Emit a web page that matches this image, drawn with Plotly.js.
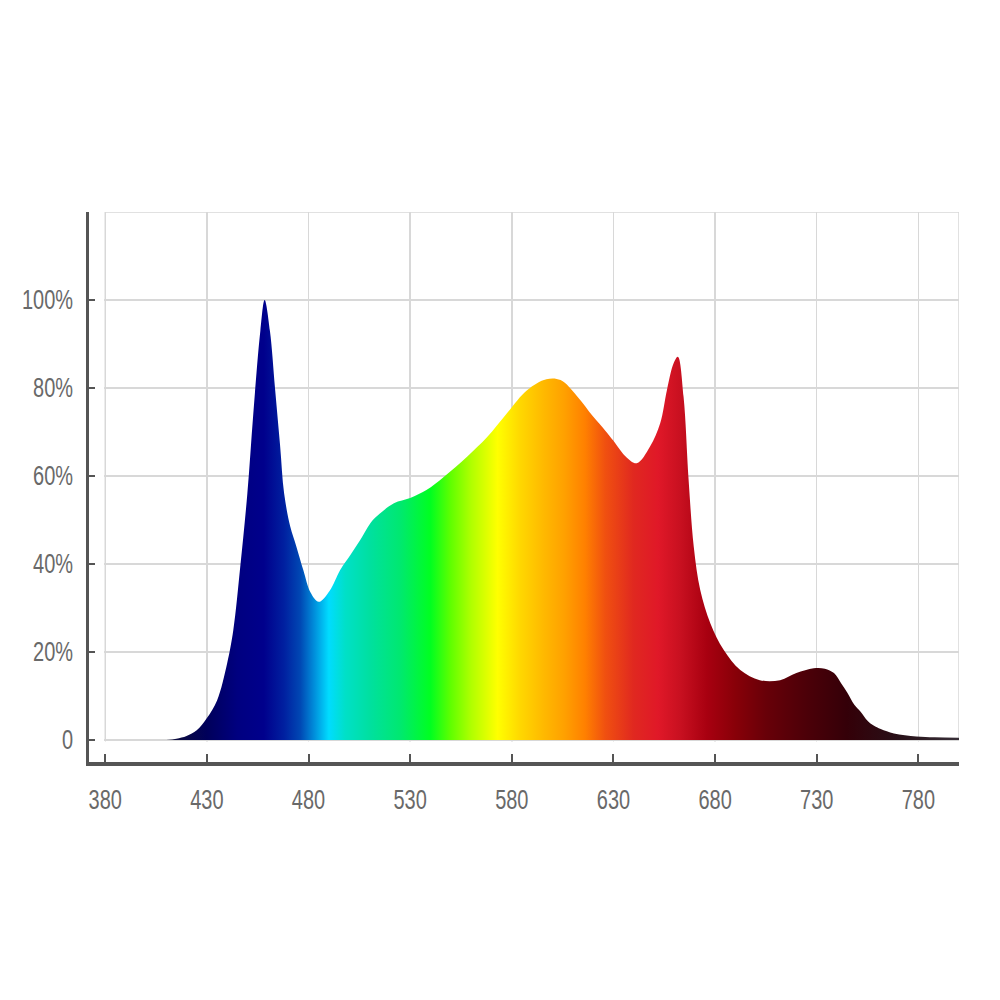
<!DOCTYPE html>
<html>
<head>
<meta charset="utf-8">
<script src="https://cdn.plot.ly/plotly-3.0.1.min.js"></script>
<style>html,body{margin:0;padding:0;background:#fff;}#chart{width:1000px;height:1000px;}</style>
</head>
<body>
<div id="chart"></div>
<script>
// Spectrum: wavelength (nm) and relative intensity (%)
const wavelength = [410,415,420,425,430,435,440,443,446.4,449.9,452.8,456.3,458.4,461,463.5,466,468,471,474,477.5,481,485,490.5,495.5,500.5,505.5,510.5,514,522,530,538,546.5,558,568,577.5,587.5,597,604,612,620,626,630,636.5,641.5,648,653,656.3,659.6,661.7,664.5,667,669.5,672.7,677.7,684.2,692.4,702,712,720,728.5,734,738.5,742,745,748.5,751.5,755,758,761.5,768,779,788,800];
const intensity  = [0,0.3,0.9,2.2,5.0,9.0,17.5,25,39.3,56,74,93,100,93,80,67,56,48.5,44,38.5,33.5,31.4,34,38.6,42,45.5,49.3,51,53.8,55,56.8,59.8,64.4,68.9,74.2,79.5,82,81.8,78.2,73.5,70.3,68,64.2,62.9,66.7,72,79.5,85.6,87.1,78,59,44,34.1,26.5,20.5,15.9,13.6,13.6,15.2,16.3,16.2,15.2,12.9,10.8,8.0,6.5,4.4,3.3,2.5,1.5,0.8,0.6,0.5];

// Colour of the fill along the wavelength axis
const gradWl    = [405,415,430,445,458,468,476,483,490,498,510,525,540,550,560,573,584,596,606,616,626,640,652,663,676,690,705,725,745,770,800];
const gradColor = ['#1a1a2e','#0c0c40','#00005a','#000080','#00008c','#0020a0','#0048b4','#0090dc','#00dcff','#00e0c8','#00e0a0','#00e870','#00ff20','#60ff00','#b0ff00','#ffff00','#ffd800','#ffb800','#ffa000','#ff8000','#f05010','#e02820','#e01828','#c81020','#a80010','#880008','#680008','#4c0008','#340008','#281018','#383038'];

const xTickVals = [380,430,480,530,580,630,680,730,780,800];
const xTickText = ['380','430','480','530','580','630','680','730','780',''];
const yTickVals = [0,20,40,60,80,100,120];
const yTickText = ['0','20%','40%','60%','80%','100%',''];

const gStart = gradWl[0], gStop = gradWl[gradWl.length-1];
const colorscale = gradWl.map((w,i)=>[(w-gStart)/(gStop-gStart), gradColor[i]]);

const fontFam = '"Liberation Sans",Arial,sans-serif';
const labelFont = {family: fontFam, size: 27, color: '#696969'};

const trace = {
  x: wavelength, y: intensity, type: 'scatter', mode: 'lines',
  line: {width: 1, shape: 'spline', smoothing: 1, color: 'rgba(0,0,0,0)'},
  fill: 'tozeroy',
  fillgradient: {type: 'horizontal', colorscale: colorscale, start: gStart, stop: gStop},
  hoverinfo: 'skip', showlegend: false
};

const layout = {
  width: 1000, height: 1000,
  margin: {l: 89, r: 41, t: 212, b: 238},
  paper_bgcolor: '#fff', plot_bgcolor: '#fff',
  showlegend: false,
  font: labelFont,
  xaxis: {
    range: [372, 800], fixedrange: true,
    tickmode: 'array', tickvals: xTickVals, ticktext: xTickText,
    showgrid: true, gridcolor: '#d8d8d8', gridwidth: 1.5,
    zeroline: false,
    showline: true, linecolor: '#555', linewidth: 3.5,
    ticks: 'inside', ticklen: 8, tickwidth: 2, tickcolor: '#555',
    ticklabelstandoff: 11,
    tickfont: labelFont
  },
  yaxis: {
    range: [-5, 120], fixedrange: true,
    tickmode: 'array', tickvals: yTickVals, ticktext: yTickText,
    showgrid: true, gridcolor: '#d8d8d8', gridwidth: 1.5,
    zeroline: false,
    showline: true, linecolor: '#555', linewidth: 3.5,
    ticks: 'inside', ticklen: 6, tickwidth: 2, tickcolor: '#555',
    ticklabelstandoff: 7,
    tickfont: labelFont
  },
  shapes: [
    {type: 'rect', layer: 'between', xref: 'x', yref: 'y', x0: 371, x1: 379.4, y0: -6, y1: 121, fillcolor: '#fff', line: {width: 0}},
    {type: 'rect', layer: 'between', xref: 'x', yref: 'y', x0: 371, x1: 801, y0: -6, y1: -0.35, fillcolor: '#fff', line: {width: 0}},
    {type: 'rect', layer: 'between', xref: 'x', yref: 'y', x0: 380, x1: 800, y0: 0, y1: 120, fillcolor: 'rgba(0,0,0,0)', line: {width: 1.5, color: '#d8d8d8'}}
  ]
};

// Narrow the tick labels horizontally around their own anchor (reference uses a condensed face)
function condenseLabels(gd) {
  const sx = 0.74;
  gd.querySelectorAll('g.xtick text, g.ytick text').forEach(t => {
    const bb = t.getBBox();
    const isY = !!t.closest('g.ytick');
    const ax = isY ? bb.x + bb.width : bb.x + bb.width / 2;
    const base = t.getAttribute('transform') || '';
    t.setAttribute('transform', base + ` translate(${ax},0) scale(${sx},1) translate(${-ax},0)`);
  });
}

Plotly.newPlot('chart', [trace], layout, {staticPlot: true, displayModeBar: false})
  .then(gd => condenseLabels(gd));
</script>
</body>
</html>
